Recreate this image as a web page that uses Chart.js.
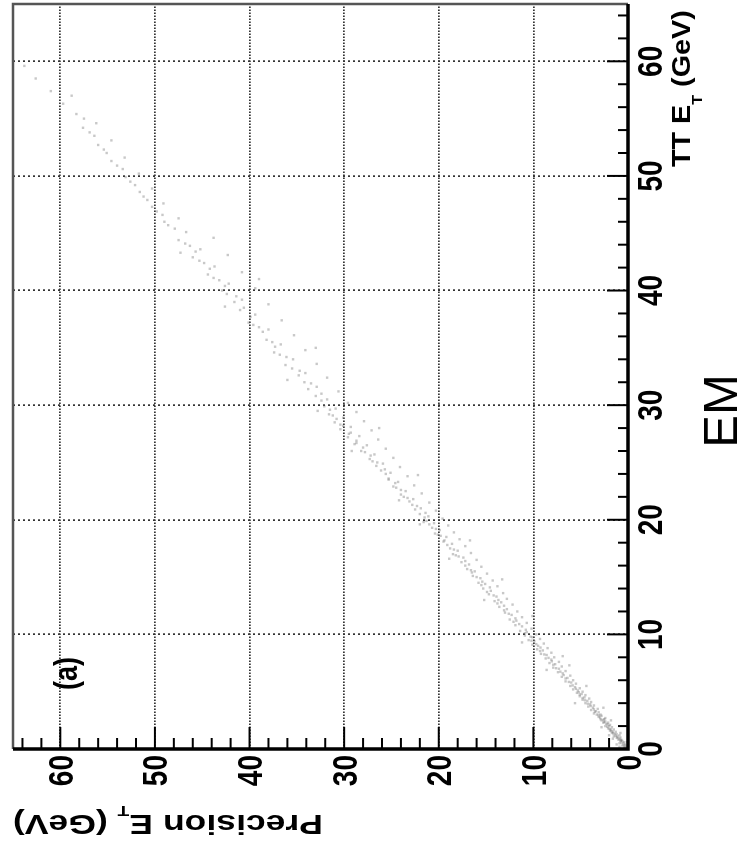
<!DOCTYPE html>
<html lang="en">
<head>
<meta charset="UTF-8">
<title>EM - TT ET vs Precision ET</title>
<script src="https://cdn.jsdelivr.net/npm/chart.js"></script>
<style>
  html, body { margin: 0; padding: 0; background: #fff; overflow: hidden; }
  #page { width: 739px; height: 852px; position: relative; overflow: hidden; background: #fff; }
  /* the whole plot is printed turned a quarter turn to the left */
  #turn { position: absolute; left: 0; top: 0; width: 852px; height: 739px;
          transform-origin: 0 0; transform: translate(0, 852px) rotate(-90deg); }
  #turn canvas { display: block; }
</style>
</head>
<body>
<div id="page"><div id="turn"><canvas id="scatter" width="852" height="739"></canvas></div></div>
<script>
// trigger tower ET vs precision readout ET (GeV)
const ttEt = [
  0.1,0.2,0.3,0.3,0.4,0.5,0.5,0.6,0.7,0.7,0.8,0.8,0.9,1.0,1.0,1.1,1.1,1.2,1.3,1.3,1.4,1.5,1.5,1.6,1.7,1.7,1.8,1.9,2.0,2.0,
  2.1,2.2,2.3,2.3,2.4,2.5,2.6,2.6,2.7,2.8,2.9,3.0,3.0,0.2,0.6,0.9,1.4,1.9,2.5,0.4,1.2,
  3.1,3.2,3.3,3.4,3.5,3.6,3.7,3.8,3.9,4.0,4.1,4.2,4.3,4.4,4.5,4.6,4.7,4.8,4.9,5.0,5.1,5.2,5.3,5.4,5.5,5.7,5.8,5.9,6.0,6.2,
  6.3,6.4,6.6,6.7,6.8,7.0,7.1,7.2,7.4,7.5,7.6,7.8,7.9,8.0,8.2,8.3,8.4,8.6,8.7,8.8,9.0,9.1,9.2,9.4,9.5,9.6,9.8,9.9,
  4.0,5.5,6.9,8.1,9.3,3.6,7.3,
  10.0,10.2,10.3,10.5,10.7,10.8,11.0,11.2,11.3,11.5,11.7,11.9,12.0,12.2,12.4,12.6,12.8,12.9,13.1,13.3,13.5,13.6,13.8,14.0,
  14.2,14.4,14.5,14.7,14.9,15.1,15.3,15.5,15.7,15.9,16.1,16.3,16.5,16.7,16.9,17.1,17.3,17.5,17.7,17.9,18.1,18.3,18.5,18.7,
  18.9,19.1,19.3,19.5,19.7,19.9,11.6,13.0,14.8,16.6,18.2,19.6,
  20.1,20.3,20.5,20.8,21.0,21.3,21.5,21.8,22.0,22.3,22.5,22.8,23.0,23.3,23.5,23.8,24.1,24.3,24.6,24.9,25.1,25.4,25.7,25.9,
  26.2,26.5,26.7,27.0,27.3,27.5,27.8,28.1,28.3,28.6,28.9,29.1,29.4,29.7,29.9,21.7,23.9,26.0,28.0,29.5,
  30.2,30.5,30.8,31.2,31.6,32.0,32.4,32.8,33.2,33.6,34.0,34.4,34.8,35.3,35.7,36.1,36.6,37.0,37.4,37.9,38.3,38.8,39.2,39.7,
  40.2,40.6,41.1,41.6,42.1,42.6,43.1,43.6,44.1,44.6,32.2,35.0,38.6,41.0,43.3,
  45.1,45.7,46.3,46.9,47.6,48.2,48.9,49.5,50.2,50.9,51.6,52.3,53.1,53.8,54.6,55.4,56.3,57.4,58.5,59.6,57.0,
  // second pass along the middle of the band
  0.15,0.35,0.55,0.75,0.95,1.15,1.35,1.55,1.75,1.95,2.15,2.35,2.55,2.75,2.95,3.25,3.45,3.75,3.95,4.25,4.45,4.75,4.95,
  5.25,5.55,5.85,6.15,6.45,6.75,7.05,7.35,7.65,7.95,8.25,8.55,8.85,9.15,9.45,9.75,
  10.1,10.4,10.9,11.1,11.4,11.8,12.1,12.5,12.7,13.0,13.4,13.7,14.1,14.3,14.6,15.0,15.4,15.6,16.0,16.4,16.8,17.0,17.4,
  17.8,18.2,18.6,18.8,19.2,19.6,19.8,
  20.2,20.6,20.9,21.2,21.6,21.9,22.2,22.6,22.9,23.2,23.6,24.0,24.4,24.7,25.0,25.3,25.6,26.0,26.3,26.6,26.9,27.2,27.6,
  27.9,28.2,28.5,28.8,29.2,29.6,
  30.4,31.0,31.4,31.9,32.6,33.0,33.5,34.2,34.6,35.1,35.5,36.4,36.8,37.2,37.7,38.5,39.0,39.5,40.0,40.4,40.9,41.4,41.9,
  42.4,42.9,43.4,43.9,44.4,
  45.4,46.0,46.6,47.3,47.9,48.6,49.2,49.9,50.6,51.3,52.0,52.7,53.5,54.2,55.0
];
const precisionEt = [
  0.1,0.4,0.2,0.6,0.3,0.5,0.9,0.4,0.8,0.6,1.0,0.7,0.9,1.2,0.8,1.1,1.5,0.9,1.4,1.2,1.7,1.3,1.6,1.9,1.5,1.8,2.1,1.7,2.0,2.4,
  1.9,2.3,2.6,2.1,2.4,2.8,2.5,2.9,2.4,3.1,2.8,3.3,2.9,0.9,0.1,1.6,0.8,2.8,1.8,1.2,2.0,
  3.6,3.1,3.4,3.9,3.2,3.7,4.2,3.6,4.0,4.5,3.9,4.3,4.8,4.1,4.6,5.1,4.5,4.9,5.4,4.8,5.3,5.8,5.1,5.6,6.1,5.5,6.0,6.6,5.8,6.4,
  7.0,6.1,6.9,7.4,6.6,7.3,7.9,7.0,7.7,8.3,7.3,8.1,8.7,7.8,8.6,9.2,8.1,9.0,9.6,8.5,9.5,10.1,8.9,9.9,10.5,9.3,10.3,10.9,
  5.6,4.4,8.6,6.9,11.2,2.6,6.2,
  9.7,10.7,11.4,10.2,11.2,11.9,10.7,11.8,12.5,11.2,12.3,13.0,11.7,12.8,13.6,12.2,13.4,14.1,12.8,13.9,14.7,13.2,14.5,15.3,
  13.8,15.1,15.8,14.3,15.6,16.4,14.9,16.2,17.0,15.5,16.8,17.6,16.0,17.4,18.2,16.6,18.0,18.8,17.2,18.6,19.5,17.8,19.2,20.1,
  18.4,19.9,20.7,19.0,20.5,21.3,10.1,15.2,13.3,18.9,16.7,22.0,
  19.6,21.1,22.0,20.3,21.9,22.8,21.0,22.7,23.7,21.8,23.5,24.5,22.6,24.3,25.3,23.3,25.1,26.1,24.1,25.9,27.0,24.8,26.8,27.8,
  25.6,27.6,28.7,26.4,28.4,29.5,27.1,29.3,30.4,27.9,30.1,31.2,28.7,30.9,32.1,24.2,22.2,29.2,26.3,32.8,
  29.6,31.8,33.0,30.6,32.9,34.2,31.8,34.1,35.5,32.9,35.4,36.8,34.1,36.7,38.2,35.3,38.0,39.6,36.6,39.4,41.0,38.0,40.8,42.4,
  39.4,42.2,43.8,40.8,43.7,45.3,42.3,45.2,46.8,43.8,36.0,33.0,42.6,39.0,47.3,
  46.7,48.6,47.5,49.8,49.1,51.2,50.3,52.6,51.7,54.0,53.2,55.4,54.6,56.9,56.2,58.3,59.7,61.0,62.6,63.8,58.8,
  // second pass along the middle of the band
  0.3,0.45,0.7,0.75,1.1,1.3,1.55,1.75,1.95,2.2,2.15,2.55,2.6,2.95,3.1,3.5,3.6,3.95,4.25,4.55,4.8,5.1,5.2,
  5.5,5.85,6.25,6.6,6.8,7.15,7.6,7.9,8.05,8.4,8.85,9.3,9.25,9.7,10.2,10.1,
  10.9,10.8,11.5,12.1,11.9,12.6,13.1,13.1,13.8,13.7,14.2,14.9,14.6,15.5,15.4,16.0,16.5,16.6,17.2,17.2,17.9,18.5,18.4,
  19.1,19.4,19.8,20.4,20.3,21.0,21.6,
  21.5,21.4,22.5,22.3,23.1,23.3,24.0,24.0,24.8,24.6,25.3,25.6,25.7,26.6,26.5,27.3,27.2,28.2,28.0,28.9,28.7,29.6,29.3,
  30.4,30.1,31.0,30.8,31.6,31.5,
  32.4,32.4,33.8,33.5,34.8,34.7,36.2,36.1,37.4,37.3,37.6,38.6,39.0,40.1,39.9,40.6,41.6,41.4,42.9,42.6,43.2,44.4,44.2,
  44.8,46.0,45.7,46.3,47.5,
  47.9,49.0,49.2,50.3,50.8,51.6,52.1,53.1,53.4,54.6,55.1,56.0,56.4,57.6,57.5
];
const tickLabels = ['0', '10', '20', '30', '40', '50', '60'];
const majorTicks = [0, 10, 20, 30, 40, 50, 60];
const axisMin = 0;
const axisMax = 65;
const minorStep = 2;

const FONT = "'Liberation Sans', Arial, Helvetica, sans-serif";
const STRETCH = 1.25; // the printed figure is drawn taller than wide

function stretched(ctx, str, x, y, sx, sy) {
  ctx.save();
  ctx.translate(x, y);
  ctx.scale(sx, sy);
  ctx.fillText(str, 0, 0);
  ctx.restore();
}

const rootStyle = {
  id: 'rootStyle',
  afterDraw(chart) {
    const { ctx, chartArea: a, scales: { x, y } } = chart;
    ctx.save();

    // upper and right frame
    ctx.strokeStyle = '#555';
    ctx.lineWidth = 2.5;
    ctx.beginPath();
    ctx.moveTo(a.left, a.top);
    ctx.lineTo(a.right, a.top);
    ctx.lineTo(a.right, a.bottom);
    ctx.stroke();

    // ticks pointing into the frame
    ctx.strokeStyle = '#000';
    ctx.lineWidth = 2;
    for (let v = axisMin; v < axisMax; v += minorStep) {
      const major = majorTicks.includes(v);
      const px = x.getPixelForValue(v);
      ctx.beginPath();
      ctx.moveTo(px, a.bottom);
      ctx.lineTo(px, a.bottom - (major ? 21 : 10));
      ctx.stroke();
      const py = y.getPixelForValue(v);
      ctx.beginPath();
      ctx.moveTo(a.left, py);
      ctx.lineTo(a.left + (major ? 22 : 11), py);
      ctx.stroke();
    }

    // axis lines
    ctx.lineWidth = 3.5;
    ctx.beginPath();
    ctx.moveTo(a.left, a.top);
    ctx.lineTo(a.left, a.bottom);
    ctx.lineTo(a.right, a.bottom);
    ctx.stroke();

    // tick labels
    ctx.fillStyle = '#000';
    ctx.font = 'bold 28px ' + FONT;
    ctx.textBaseline = 'alphabetic';
    ctx.textAlign = 'center';
    majorTicks.forEach((v, i) => {
      stretched(ctx, tickLabels[i], x.getPixelForValue(v), a.bottom + 34, 1, STRETCH);
    });
    ctx.textAlign = 'right';
    majorTicks.forEach((v, i) => {
      stretched(ctx, tickLabels[i], a.left - 6, y.getPixelForValue(v) + 12.5, 1, STRETCH);
    });

    // x title: TT E_T (GeV), right aligned to the end of the axis
    ctx.textAlign = 'left';
    ctx.save();
    ctx.translate(685, a.bottom + 62);
    ctx.scale(1.15, 1);
    ctx.font = 'bold 25px ' + FONT;
    ctx.fillText('TT E', 0, 0);
    let w = ctx.measureText('TT E').width;
    ctx.font = 'bold 14px ' + FONT;
    ctx.fillText('T', w, 12);
    w += ctx.measureText('T').width;
    ctx.font = 'bold 25px ' + FONT;
    ctx.fillText(' (GeV)', w, 0);
    ctx.restore();

    // y title: Precision E_T (GeV), ending at the top of the axis
    ctx.save();
    ctx.translate(37, 323);
    ctx.rotate(-Math.PI / 2);
    ctx.scale(1.27, 1);
    ctx.font = 'bold 28px ' + FONT;
    ctx.fillText('Precision E', 0, 0);
    w = ctx.measureText('Precision E').width;
    ctx.font = 'bold 15px ' + FONT;
    ctx.fillText('T', w, 9);
    w += ctx.measureText('T').width;
    ctx.font = 'bold 28px ' + FONT;
    ctx.fillText(' (GeV)', w, 0);
    ctx.restore();

    // panel tag
    ctx.font = 'bold 27px ' + FONT;
    stretched(ctx, '(a)', 162, 76.5, 1, STRETCH);

    // calorimeter name under the plot
    ctx.font = '49px ' + FONT;
    ctx.textAlign = 'center';
    ctx.fillText('EM', 441, 737);

    ctx.restore();
  }
};

function gridColor(c) {
  const v = c.tick.value;
  return (majorTicks.includes(v) && v > axisMin) ? '#333' : 'transparent';
}

new Chart(document.getElementById('scatter'), {
  type: 'scatter',
  data: {
    datasets: [{
      data: ttEt.map((v, i) => ({ x: v, y: precisionEt[i] })),
      pointStyle: 'rect',
      pointRadius: 1.7,
      pointBorderWidth: 0,
      pointBackgroundColor: 'rgba(110, 110, 110, 0.38)'
    }]
  },
  options: {
    responsive: false,
    animation: false,
    devicePixelRatio: 1,
    layout: { padding: { left: 103, right: 3, top: 13, bottom: 111 } },
    plugins: { legend: { display: false }, tooltip: { enabled: false } },
    scales: {
      x: {
        type: 'linear', min: axisMin, max: axisMax,
        ticks: { display: false, stepSize: 10 },
        grid: { color: gridColor, lineWidth: 1.7, drawTicks: false },
        border: { display: false, dash: [2, 3] },
        afterFit: s => { s.height = 0; }
      },
      y: {
        type: 'linear', min: axisMin, max: axisMax,
        ticks: { display: false, stepSize: 10 },
        grid: { color: gridColor, lineWidth: 1.7, drawTicks: false },
        border: { display: false, dash: [1.5, 1.5] },
        afterFit: s => { s.width = 0; }
      }
    }
  },
  plugins: [rootStyle]
});
</script>
</body>
</html>
